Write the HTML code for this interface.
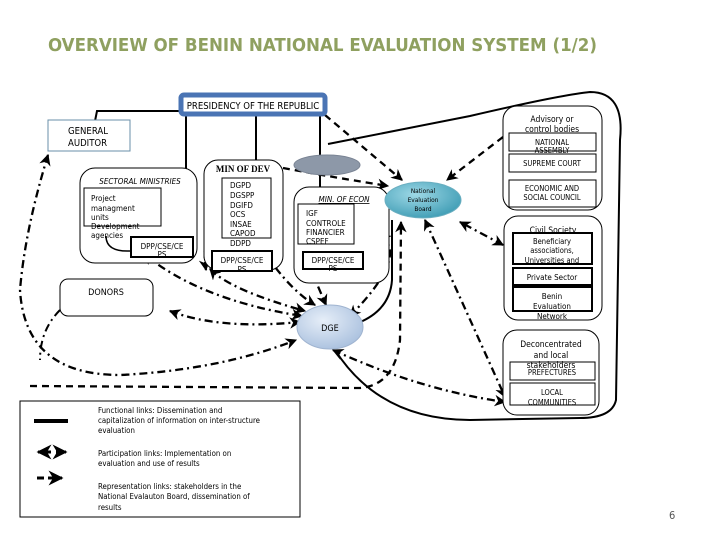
<!DOCTYPE html>
<html><head><meta charset="utf-8"><style>
html,body{margin:0;padding:0;background:#fff;}
svg{display:block;font-family:"DejaVu Sans Condensed","Liberation Sans",sans-serif;}
</style></head><body>
<svg width="720" height="540" viewBox="0 0 720 540" xmlns="http://www.w3.org/2000/svg">
<defs>
<marker id="a" viewBox="0 0 10 10" refX="9" refY="5" markerWidth="5" markerHeight="5" orient="auto-start-reverse"><path d="M0,0 L10,5 L0,10 L3,5 z" fill="#000"/></marker>
<radialGradient id="dge" cx="40%" cy="35%" r="70%"><stop offset="0" stop-color="#e6eef8"/><stop offset="1" stop-color="#a9c0de"/></radialGradient>
<radialGradient id="neb" cx="40%" cy="35%" r="70%"><stop offset="0" stop-color="#9ed8e6"/><stop offset="1" stop-color="#3e9cb4"/></radialGradient>
</defs>
<rect width="720" height="540" fill="#fff"/>
<text x="48" y="51" font-size="18" font-weight="bold" fill="#8fa060" textLength="549" lengthAdjust="spacingAndGlyphs" font-family="'DejaVu Sans Condensed','Liberation Sans',sans-serif">OVERVIEW OF BENIN NATIONAL EVALUATION SYSTEM (1/2)</text>

<g fill="none" stroke="#000" stroke-width="2">
<path d="M181,111 L97,111 L95,121"/>
<path d="M186,115 L186,169"/>
<path d="M256,115 L256,160"/>
<path d="M320,115 L320,187"/>
<path d="M328,144 L470,116 Q560,95 590,92 Q625,92 620,140 L616,400 Q612,418 580,418 L470,420 Q380,420 335,350"/>
<path d="M358,323 Q390,310 392,280 L392,220"/>
</g>

<g fill="none" stroke="#000" stroke-width="2.3" stroke-dasharray="7,5" marker-end="url(#a)">
<path d="M325,115 L402,180"/>
<path d="M283,168 Q320,175 388,186"/>
<path d="M503,137 L447,180"/>
<path d="M30,386 L360,388 Q395,385 400,340 L401,222"/>
</g>
<g fill="none" stroke="#000" stroke-width="2.3" stroke-dasharray="8,4,2,4" marker-end="url(#a)" marker-start="url(#a)">
<path d="M503,245 L460,222"/>
<path d="M425,220 L505,397"/>
<path d="M333,350 Q420,390 505,402"/>
<path d="M170,311 Q220,330 300,322"/>
<path d="M48,155 Q25,230 20,290 Q25,375 120,375 Q220,370 296,340"/>
<path d="M144,254 Q200,300 302,316"/>
<path d="M210,269 Q230,290 305,311"/>
<path d="M265,253 Q290,290 315,305"/>
<path d="M311,270 L326,305"/>
<path d="M380,235 Q410,255 350,316"/>
<path d="M312,240 Q380,240 380,260"/>
<path d="M206,270 Q200,230 220,210"/>
</g>
<path d="M60,310 Q40,330 40,360" fill="none" stroke="#000" stroke-width="2" stroke-dasharray="8,4,2,4"/>

<rect x="181" y="95" width="144" height="19" rx="3" fill="#fff" stroke="#4a74b4" stroke-width="5"/>
<text x="253" y="109" font-size="9.5" text-anchor="middle">PRESIDENCY OF THE REPUBLIC</text>

<rect x="48" y="120" width="82" height="31" fill="#fff" stroke="#6a8fa8"/>
<text x="68" y="134" font-size="9.5">GENERAL</text>
<text x="68" y="146" font-size="9.5">AUDITOR</text>

<rect x="80" y="168" width="117" height="95" rx="15" fill="#fff" stroke="#000"/>
<text x="140" y="184" font-size="8" font-style="italic" text-anchor="middle">SECTORAL MINISTRIES</text>
<rect x="84" y="188" width="77" height="38" fill="#fff" stroke="#000"/>
<text font-size="8" x="91" y="201">Project</text>
<text font-size="8" x="91" y="211">managment</text>
<text font-size="8" x="91" y="220">units</text>
<text font-size="8" x="91" y="229">Development</text>
<text font-size="8" x="91" y="238">agencies</text>
<path d="M106,236 Q106,252 130,251" fill="none" stroke="#000" stroke-width="1.5"/>
<rect x="131" y="237" width="62" height="20" fill="#fff" stroke="#000" stroke-width="2"/>
<text x="162" y="249" font-size="8" text-anchor="middle">DPP/CSE/CE</text>
<text x="162" y="257" font-size="8" text-anchor="middle">PS</text>

<rect x="204" y="160" width="79" height="110" rx="14" fill="#fff" stroke="#000"/>
<text x="243" y="172" font-size="9" font-weight="bold" font-family="'Liberation Serif',serif" text-anchor="middle">MIN OF DEV</text>
<rect x="222" y="178" width="49" height="60" fill="#fff" stroke="#000"/>
<g font-size="8"><text x="230" y="188">DGPD</text><text x="230" y="198">DGSPP</text><text x="230" y="208">DGIFD</text><text x="230" y="217">OCS</text><text x="230" y="227">INSAE</text><text x="230" y="236">CAPOD</text><text x="230" y="246">DDPD</text></g>
<rect x="212" y="251" width="60" height="20" fill="#fff" stroke="#000" stroke-width="2"/>
<text x="242" y="263" font-size="8" text-anchor="middle">DPP/CSE/CE</text>
<text x="242" y="272" font-size="8" text-anchor="middle">PS</text>

<ellipse cx="327" cy="165" rx="33" ry="10" fill="#8d98a8" stroke="#7a8494"/>

<rect x="294" y="187" width="95" height="96" rx="15" fill="#fff" stroke="#000"/>
<rect x="298" y="204" width="56" height="40" fill="#fff" stroke="#000"/>
<text x="344" y="202" font-size="8" font-style="italic" text-decoration="underline" text-anchor="middle">MIN. OF ECON</text>
<g font-size="8"><text x="306" y="216">IGF</text><text x="306" y="226">CONTROLE</text><text x="306" y="235">FINANCIER</text><text x="306" y="244">CSPEF</text></g>
<rect x="303" y="252" width="60" height="17" fill="#fff" stroke="#000" stroke-width="2"/>
<text x="333" y="263" font-size="8" text-anchor="middle">DPP/CSE/CE</text>
<text x="333" y="271" font-size="8" text-anchor="middle">PS</text>

<ellipse cx="423" cy="200" rx="38" ry="18" fill="url(#neb)" stroke="#6aaec0"/>
<g font-size="6.5" text-anchor="middle"><text x="423" y="193">National</text><text x="423" y="202">Evaluation</text><text x="423" y="211">Board</text></g>

<rect x="503" y="106" width="99" height="104" rx="14" fill="#fff" stroke="#000"/>
<text x="552" y="122" font-size="8.5" text-anchor="middle">Advisory or</text>
<text x="552" y="132" font-size="8.5" text-anchor="middle">control bodies</text>
<rect x="509" y="133" width="87" height="18" fill="#fff" stroke="#000"/>
<text x="552" y="145" font-size="7.5" text-anchor="middle">NATIONAL</text>
<text x="552" y="153" font-size="7.5" text-anchor="middle">ASSEMBLY</text>
<rect x="509" y="154" width="87" height="18" fill="#fff" stroke="#000"/>
<text x="552" y="166" font-size="7.5" text-anchor="middle">SUPREME COURT</text>
<rect x="509" y="180" width="87" height="27" fill="#fff" stroke="#000"/>
<text x="552" y="191" font-size="7.5" text-anchor="middle">ECONOMIC AND</text>
<text x="552" y="200" font-size="7.5" text-anchor="middle">SOCIAL COUNCIL</text>

<rect x="504" y="216" width="98" height="104" rx="14" fill="#fff" stroke="#000"/>
<text x="553" y="233" font-size="8.5" text-anchor="middle">Civil Society</text>
<rect x="513" y="233" width="79" height="31" fill="#fff" stroke="#000" stroke-width="2"/>
<text x="552" y="244" font-size="7.5" text-anchor="middle">Beneficiary</text>
<text x="552" y="253" font-size="7.5" text-anchor="middle">associations,</text>
<text x="552" y="263" font-size="7.5" text-anchor="middle">Universities and</text>
<rect x="513" y="268" width="79" height="17" fill="#fff" stroke="#000" stroke-width="2"/>
<text x="552" y="280" font-size="8" text-anchor="middle">Private Sector</text>
<rect x="513" y="287" width="79" height="24" fill="#fff" stroke="#000" stroke-width="2"/>
<text x="552" y="299" font-size="8" text-anchor="middle">Benin</text>
<text x="552" y="309" font-size="8" text-anchor="middle">Evaluation</text>
<text x="552" y="319" font-size="8" text-anchor="middle">Network</text>

<rect x="503" y="330" width="96" height="85" rx="14" fill="#fff" stroke="#000"/>
<text x="551" y="347" font-size="8.5" text-anchor="middle">Deconcentrated</text>
<text x="551" y="358" font-size="8.5" text-anchor="middle">and local</text>
<text x="551" y="368" font-size="8.5" text-anchor="middle">stakeholders</text>
<rect x="510" y="362" width="85" height="18" fill="none" stroke="#000"/>
<text x="552" y="375" font-size="7.5" text-anchor="middle">PREFECTURES</text>
<rect x="510" y="383" width="85" height="22" fill="#fff" stroke="#000"/>
<text x="552" y="395" font-size="7.5" text-anchor="middle">LOCAL</text>
<text x="552" y="405" font-size="7.5" text-anchor="middle">COMMUNITIES</text>

<rect x="60" y="279" width="93" height="37" rx="8" fill="#fff" stroke="#000"/>
<text x="106" y="295" font-size="9" text-anchor="middle">DONORS</text>

<ellipse cx="330" cy="327" rx="33" ry="22" fill="url(#dge)" stroke="#a0b4d0"/>
<text x="330" y="331" font-size="9" text-anchor="middle">DGE</text>

<rect x="20" y="401" width="280" height="116" fill="#fff" stroke="#000"/>
<line x1="34" y1="421" x2="68" y2="421" stroke="#000" stroke-width="4"/>
<path d="M38,452 L66,452" stroke="#000" stroke-width="3" fill="none" stroke-dasharray="4,5" marker-start="url(#a)" marker-end="url(#a)"/>
<path d="M37,478 L62,478" stroke="#000" stroke-width="3" fill="none" stroke-dasharray="7,4" marker-end="url(#a)"/>
<g font-size="7.8">
<text x="98" y="413">Functional links:  Dissemination    and</text>
<text x="98" y="423">capitalization of information on inter-structure</text>
<text x="98" y="433">evaluation</text>
<text x="98" y="456">Participation links:   Implementation    on</text>
<text x="98" y="466">evaluation and use of results</text>
<text x="98" y="489">Representation links: stakeholders in the</text>
<text x="98" y="499">National Evalauton Board, dissemination of</text>
<text x="98" y="510">results</text>
</g>
<text x="669" y="519" font-size="11" fill="#555">6</text>
</svg>
</body></html>
